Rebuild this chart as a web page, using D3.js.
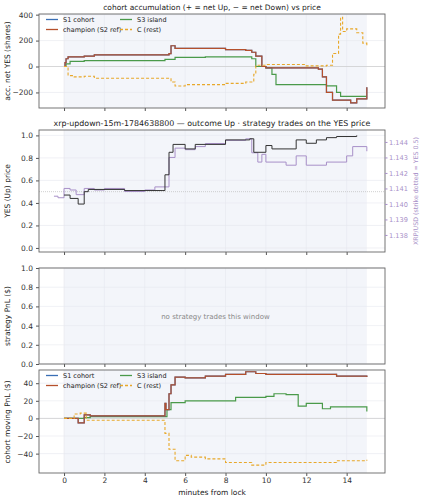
<!DOCTYPE html><html><head><script src="https://cdn.jsdelivr.net/npm/d3@7"></script>
<style>body{margin:0;background:#fff}text{font-family:"DejaVu Sans";}</style></head><body><svg id="c" width="423" height="500"></svg>
<script>
const xTicks=[0,2,4,6,8,10,12,14];
const accT=[0,0.05,0.1,0.2,1,1.5,5,5.2,5.3,5.5,6,8,9,9.3,9.5,9.8,10,12,12.6,12.8,13,13.3,14.2,14.5,15];
const accChamp=[0,30,60,75,80,90,90,100,160,140,140,130,125,110,80,0,-10,-10,-20,-80,-200,-260,-280,-250,-160];
const accS3T=[0,0.1,0.3,1,5,5.5,7,9,9.3,9.5,10,10.3,10.5,13,13.5,13.7,15];
const accS3=[0,20,40,45,55,70,75,75,60,0,-10,-60,-140,-150,-200,-230,-230];
const accCT=[0,0.2,0.5,1,1.5,5,5.3,5.5,6,8,9,9.4,9.5,10,12,13,13.3,13.6,13.7,13.8,14,14.5,14.8,15];
const accC=[0,-70,-80,-75,-90,-90,-120,-150,-140,-130,-120,-60,10,15,5,10,100,250,380,270,290,260,180,160];
const yesT=[0,0.3,0.7,1,1.2,3,4.9,5.0,5.2,5.4,6,6.5,8,9.2,9.4,10,10.3,11.5,12,12.5,13,13.5,14.5];
const yesP=[0.47,0.44,0.39,0.50,0.52,0.51,0.51,0.65,0.85,0.92,0.88,0.92,0.96,0.97,0.85,0.91,0.88,0.96,0.93,0.96,0.98,0.99,1.0];
const xrpT=[-0.5,-0.3,0,0.3,0.6,1,1.5,2,3,4,4.5,4.9,5.2,5.5,6,6.5,7,8,9,9.3,9.6,9.8,10,11,11.5,12,13,14,14.3,15];
const xrpP=[1.1405,1.1404,1.1410,1.1409,1.1406,1.1410,1.1409,1.1410,1.1408,1.1409,1.1411,1.1411,1.1430,1.1436,1.1435,1.1437,1.1439,1.1441,1.1442,1.1433,1.1427,1.1432,1.1427,1.1425,1.1431,1.1425,1.1427,1.1431,1.1437,1.1434];
const pnlChT=[0,0.7,1,1.3,4.9,5.0,5.05,5.2,5.3,5.5,6,7,8,9,9.5,10,12.5,13.5,15];
const pnlCh=[0,-5,4,3,3,17,10,28,38,47,46,48,50,53,51,50,50,48,47];
const pnlS3T=[0,1,1.3,4.9,5.1,5.3,6,8.5,10,10.4,11,11.6,12,12.8,13.2,15];
const pnlS3=[0,1,2,2,10,18,20,24,25,28,27,14,17,11,13,8];
const pnlCT=[0,0.5,0.8,1.1,4.9,5.0,5.2,5.5,6,6.3,7,8,9.3,10,12,13.5,15];
const pnlC=[0,5,6,-2,-2,-17,-35,-48,-42,-44,-46,-50,-53,-50,-50,-48,-47];
const C={s1:"#3a6fb5",ch:"#b5502c",s3:"#4a9a4a",c:"#e8a82a",yes:"#333",xrp:"#a890c8"};
const svg=d3.select("#c");
const x=d3.scaleLinear().domain([-1.24,15.9]).range([39,385]);
function panel(top,bot,dom,ticks,fmt,title,last){
 const y=d3.scaleLinear().domain(dom).range([bot,top]);
 const g=svg.append("g");
 g.append("rect").attr("x",39).attr("y",top).attr("width",346).attr("height",bot-top).attr("fill","#fff");
 g.append("rect").attr("x",x(0)).attr("y",top).attr("width",x(15)-x(0)).attr("height",bot-top).attr("fill","#f3f5fa");
 xTicks.forEach(t=>g.append("line").attr("x1",x(t)).attr("x2",x(t)).attr("y1",top).attr("y2",bot).attr("stroke","#e6e8ee").attr("stroke-width",0.6));
 ticks.forEach(t=>g.append("line").attr("x1",39).attr("x2",385).attr("y1",y(t)).attr("y2",y(t)).attr("stroke","#e6e8ee").attr("stroke-width",0.6));
 g.append("g").attr("transform",`translate(39,0)`).call(d3.axisLeft(y).tickValues(ticks).tickFormat(fmt).tickSize(3)).call(a=>{a.select(".domain").remove();a.selectAll("text").attr("font-size",7.5).attr("fill","#333");a.selectAll("line").attr("stroke","#555")});
 g.append("g").attr("transform",`translate(0,${bot})`).call(d3.axisBottom(x).tickValues(xTicks).tickFormat(last?d3.format("d"):"").tickSize(3).tickPadding(2)).call(a=>{a.select(".domain").remove();a.selectAll("text").attr("font-size",7.5).attr("fill","#333");a.selectAll("line").attr("stroke","#555")});
 if(title)svg.append("text").attr("x",212).attr("y",top-4).attr("text-anchor","middle").attr("font-size",title.length>60?7.9:7.5).attr("fill","#222").text(title);
 return {y,g,top,bot};
}
function frame(p){svg.append("rect").attr("x",39).attr("y",p.top).attr("width",346).attr("height",p.bot-p.top).attr("fill","none").attr("stroke","#666").attr("stroke-width",0.9);}
function step(p,T,V,col,w,dash){const pts=T.map((t,i)=>[x(t),p.y(V[i])]);
 svg.append("path").attr("d",d3.line().curve(d3.curveStepAfter)(pts)).attr("fill","none").attr("stroke",col).attr("stroke-width",w).attr("stroke-dasharray",dash||null);}
function ylab(t,xx,yc,col,fs){svg.append("text").attr("transform",`translate(${xx},${yc}) rotate(-90)`).attr("text-anchor","middle").attr("font-size",fs||7.5).attr("fill",col||"#222").text(t);}
function legend(p){const L=[["S1 cohort",C.s1,null,46,p.top+8],["champion (S2 ref)",C.ch,null,46,p.top+18],["S3 island",C.s3,null,120,p.top+8],["C (rest)",C.c,"3,2",120,p.top+18]];
 L.forEach(([n,c,d,lx,ly])=>{svg.append("line").attr("x1",lx).attr("x2",lx+12).attr("y1",ly-2.5).attr("y2",ly-2.5).attr("stroke",c).attr("stroke-width",1.3).attr("stroke-dasharray",d);
 svg.append("text").attr("x",lx+17).attr("y",ly).attr("font-size",6.5).attr("fill","#222").text(n);});}
const p1=panel(14,108,[-320,405],[-200,0,200,400],d3.format("d"),"cohort accumulation (+ = net Up, − = net Down) vs price");
p1.g.append("line").attr("x1",39).attr("x2",385).attr("y1",p1.y(0)).attr("y2",p1.y(0)).attr("stroke","#ccc").attr("stroke-width",0.7);
step(p1,accS3T,accS3,C.s3,1.2);step(p1,accT,accChamp,C.s1,1.2);step(p1,accT,accChamp,C.ch,1.2);step(p1,accCT,accC,C.c,1.1,"3,2");
frame(p1);legend(p1);ylab("acc. net YES (shares)",10,61);
const p2=panel(130,252,[-0.036,1.048],[0,0.2,0.4,0.6,0.8,1.0],d3.format(".1f"),"xrp-updown-15m-1784638800 — outcome Up · strategy trades on the YES price");
const yr=d3.scaleLinear().domain([1.1369,1.14477]).range([252,130]);
svg.append("line").attr("x1",39).attr("x2",385).attr("y1",p2.y(0.5)).attr("y2",p2.y(0.5)).attr("stroke","#bbb").attr("stroke-width",0.7).attr("stroke-dasharray","1,1");
svg.append("path").attr("d",d3.line().curve(d3.curveStepAfter)(xrpT.map((t,i)=>[x(t),yr(xrpP[i])]))).attr("fill","none").attr("stroke",C.xrp).attr("stroke-width",1);
step(p2,yesT,yesP,C.yes,1);
frame(p2);
svg.append("g").attr("transform","translate(385,0)").call(d3.axisRight(yr).tickValues([1.138,1.139,1.140,1.141,1.142,1.143,1.144]).tickFormat(d3.format(".3f")).tickSize(2.5).tickPadding(1.5)).call(a=>{a.select(".domain").remove();a.selectAll("text").attr("font-size",6.6).attr("fill",C.xrp);a.selectAll("line").attr("stroke",C.xrp)});
ylab("YES (Up) price",10,191);ylab("XRP/USD (strike dotted = YES 0.5)",418,191,C.xrp,6.3);
const p3=panel(268,364,[0,1],[0,0.2,0.4,0.6,0.8,1.0],d3.format(".1f"));
frame(p3);
svg.append("text").attr("x",x(7.5)).attr("y",(268+364)/2+3).attr("text-anchor","middle").attr("font-size",7).attr("fill","#888").text("no strategy trades this window");
ylab("strategy PnL ($)",10,316);
const p4=panel(370,473,[-62,55],[-40,-20,0,20,40],d3.format("d"),null,true);
p4.g.append("line").attr("x1",39).attr("x2",385).attr("y1",p4.y(0)).attr("y2",p4.y(0)).attr("stroke","#ccc").attr("stroke-width",0.7);
step(p4,pnlS3T,pnlS3,C.s3,1.2);step(p4,pnlChT,pnlCh,C.s1,1.2);step(p4,pnlChT,pnlCh,C.ch,1.2);step(p4,pnlCT,pnlC,C.c,1.1,"3,2");
frame(p4);legend(p4);ylab("cohort moving PnL ($)",10,422);
svg.append("text").attr("x",212).attr("y",495).attr("text-anchor","middle").attr("font-size",7.5).attr("fill","#222").text("minutes from lock");
</script></body></html>
